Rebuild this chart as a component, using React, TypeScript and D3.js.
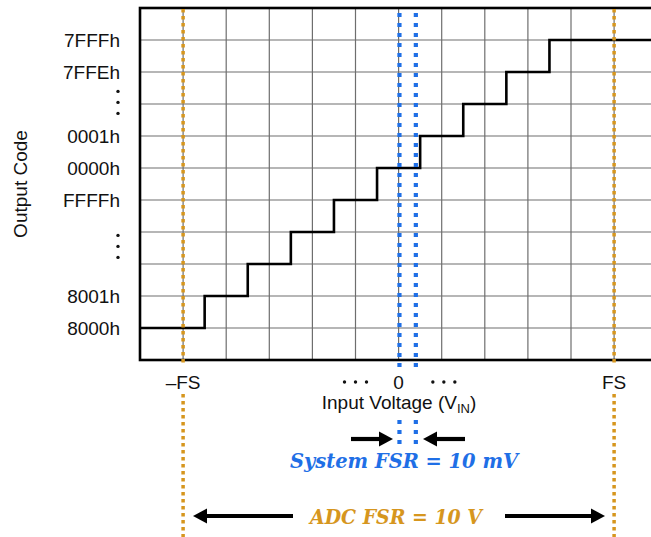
import React, { useEffect, useRef } from 'react';
import * as d3 from 'd3';

// input axis in LSB columns, 0 in the middle; -FS / FS at +-5
const xTicks = [-5, -4, -3, -2, -1, 0, 1, 2, 3, 4, 5];
const xLabels = [
  { at: -5, text: '\u2013FS' },
  { at: 0, text: '0' },
  { at: 5, text: 'FS' },
];
const xEllipsisAt = [-1, 1.05];

// output code rows (1 = bottom code)
const codeRows = [1, 2, 5, 6, 7, 9, 10];
const codeLabels = ['8000h', '8001h', 'FFFFh', '0000h', '0001h', '7FFEh', '7FFFh'];
const codeEllipsisRows = [3.55, 8.05];
const gridRows = [1, 2, 3, 4, 5, 6, 7, 8, 9, 10];

// transfer function: code transitions
const stepX = [-6, -4.5, -3.5, -2.5, -1.5, -0.5, 0.5, 1.5, 2.5, 3.5, 6];
const stepCode = [1, 2, 3, 4, 5, 6, 7, 8, 9, 10, 10];

// full scale markers
const adcFsX = [-5, 5];
const sysFsX = [0.02, 0.4];

const BLUE = '#1f6fe6';
const ORANGE = '#d6961e';

export default function App() {
  const ref = useRef<SVGSVGElement>(null);

  useEffect(() => {
    document.body.style.margin = '0';
    const svg = d3.select(ref.current);
    svg.selectAll('*').remove();

    const x = d3.scaleLinear().domain([-6, 6]).range([140, 657.2]);
    const y = d3.scaleLinear().domain([0, 11]).range([360, 8]);
    const sans = 'Liberation Sans, Arial, sans-serif';
    const fs = 19;

    // grid
    const g = svg.append('g');
    g.selectAll('.vg').data(xTicks).enter().append('line')
      .attr('x1', d => x(d)).attr('x2', d => x(d))
      .attr('y1', y(11)).attr('y2', y(0))
      .attr('stroke', '#6e6e6e').attr('stroke-width', 1.2);
    g.selectAll('.hg').data(gridRows).enter().append('line')
      .attr('x1', x(-6)).attr('x2', x(6))
      .attr('y1', d => y(d)).attr('y2', d => y(d))
      .attr('stroke', '#6e6e6e').attr('stroke-width', 1.2);

    // frame
    g.append('rect')
      .attr('x', x(-6)).attr('y', y(11))
      .attr('width', x(6) - x(-6)).attr('height', y(0) - y(11))
      .attr('fill', 'none').attr('stroke', '#000').attr('stroke-width', 2.6);

    // staircase
    const pts = stepX.map((v, i) => [v, stepCode[i]] as [number, number]);
    const line = d3.line<[number, number]>()
      .x(d => x(d[0])).y(d => y(d[1]))
      .curve(d3.curveStepAfter);
    g.append('path').attr('d', line(pts) as string)
      .attr('fill', 'none').attr('stroke', '#000').attr('stroke-width', 2.6);

    // y tick labels
    g.selectAll('.yl').data(codeRows).enter().append('text')
      .attr('x', 120).attr('y', d => y(d)).attr('dy', '0.36em')
      .attr('text-anchor', 'end').attr('font-family', sans).attr('font-size', fs)
      .attr('fill', '#111')
      .text((d, i) => codeLabels[i]);
    codeEllipsisRows.forEach(r => {
      [-11, 0, 11].forEach(o => {
        g.append('circle').attr('cx', 118).attr('cy', y(r) + o).attr('r', 1.7).attr('fill', '#111');
      });
    });

    g.append('text')
      .attr('transform', `translate(27,184) rotate(-90)`)
      .attr('text-anchor', 'middle').attr('font-family', sans).attr('font-size', fs)
      .attr('fill', '#111').text('Output Code');

    // x labels
    g.selectAll('.xl').data(xLabels).enter().append('text')
      .attr('x', d => x(d.at)).attr('y', 389)
      .attr('text-anchor', 'middle').attr('font-family', sans).attr('font-size', fs)
      .attr('fill', '#111').text(d => d.text);
    xEllipsisAt.forEach(c => {
      [-11, 0, 11].forEach(o => {
        g.append('circle').attr('cx', x(c) + o).attr('cy', 382).attr('r', 1.7).attr('fill', '#111');
      });
    });

    const t = g.append('text').attr('x', 399).attr('y', 409)
      .attr('text-anchor', 'middle').attr('font-family', sans).attr('font-size', fs)
      .attr('fill', '#111');
    t.append('tspan').text('Input Voltage (V');
    t.append('tspan').attr('font-size', 13).attr('dy', 4).text('IN');
    t.append('tspan').attr('dy', -4).text(')');

    // ADC full scale (orange dotted)
    const orange = (y1: number, y2: number) =>
      g.selectAll(null).data(adcFsX).enter().append('line')
        .attr('x1', d => x(d)).attr('x2', d => x(d))
        .attr('y1', y1).attr('y2', y2)
        .attr('stroke', ORANGE).attr('stroke-width', 3.5).attr('stroke-dasharray', '3.5 3.5');
    orange(9, 364);
    orange(394, 537);

    // system full scale (blue dotted)
    const blue = (y1: number, y2: number) =>
      g.selectAll(null).data(sysFsX).enter().append('line')
        .attr('x1', d => x(d)).attr('x2', d => x(d))
        .attr('y1', y1).attr('y2', y2)
        .attr('stroke', BLUE).attr('stroke-width', 4.2).attr('stroke-dasharray', '4 6');
    blue(13, 367);
    blue(420, 446);

    // arrows
    const arrow = (x1: number, x2: number, yy: number) => {
      const dir = Math.sign(x2 - x1);
      const head = 14;
      g.append('line').attr('x1', x1).attr('x2', x2 - dir * head).attr('y1', yy).attr('y2', yy)
        .attr('stroke', '#000').attr('stroke-width', 4.2);
      g.append('path')
        .attr('d', `M${x2},${yy} L${x2 - dir * head},${yy - 7.5} L${x2 - dir * head},${yy + 7.5} Z`)
        .attr('fill', '#000');
    };
    arrow(351, 393, 439);
    arrow(465, 423, 439);
    arrow(293, 193, 516);
    arrow(505, 605, 516);

    const serif = 'DejaVu Serif, serif';
    g.append('text').attr('x', 404).attr('y', 468)
      .attr('text-anchor', 'middle').attr('font-family', serif)
      .attr('font-weight', 'bold').attr('font-style', 'italic').attr('font-size', 21)
      .attr('textLength', 228).attr('lengthAdjust', 'spacingAndGlyphs')
      .attr('fill', BLUE).text('System FSR = 10 mV');
    g.append('text').attr('x', 396).attr('y', 524)
      .attr('text-anchor', 'middle').attr('font-family', serif)
      .attr('font-weight', 'bold').attr('font-style', 'italic').attr('font-size', 21)
      .attr('textLength', 172).attr('lengthAdjust', 'spacingAndGlyphs')
      .attr('fill', ORANGE).text('ADC FSR = 10 V');
  }, []);

  return (
    <svg ref={ref} width={651} height={537} style={{ display: 'block', background: '#fff' }} />
  );
}
